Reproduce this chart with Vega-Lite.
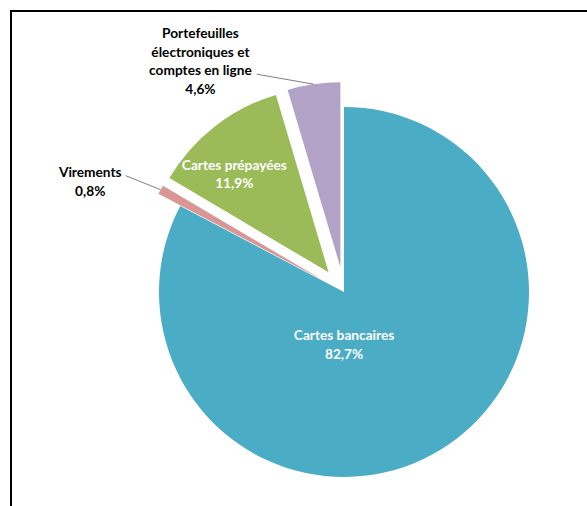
{
  "$schema": "https://vega.github.io/schema/vega-lite/v6.json",
  "width": 600,
  "height": 520,
  "autosize": {"type": "none"},
  "padding": {"left": 11, "top": 11, "right": -24, "bottom": -25},
  "background": "white",
  "config": {"view": {"stroke": "black", "strokeWidth": 2}, "font": "Lato"},
  "data": {
    "values": [
      {"category": "Cartes bancaires", "value": 82.7},
      {"category": "Virements", "value": 0.8},
      {"category": "Cartes prépayées", "value": 11.9},
      {"category": "Portefeuilles\nélectroniques et\ncomptes en ligne", "value": 4.6}
    ]
  },
  "transform": [
    {"stack": "value", "groupby": [], "as": ["v0", "v1"]},
    {"calculate": "(datum.v0 + datum.v1) / 2", "as": "m"},
    {"calculate": "2 * PI * datum.m / 100", "as": "a"},
    {"calculate": "datum.value < 50 ? 25 : 0", "as": "explode"},
    {"calculate": "datum.explode * sin(datum.a)", "as": "ex"},
    {"calculate": "datum.explode * cos(datum.a)", "as": "ey"},
    {"calculate": "datum.ex + 185 * sin(datum.a)", "as": "ox"},
    {"calculate": "datum.ey + 185 * cos(datum.a)", "as": "oy"},
    {"calculate": "datum.category + '\\n' + replace(format(datum.value, '.1f'), '.', ',') + '%'", "as": "label"}
  ],
  "encoding": {
    "x": {"field": "ex", "type": "quantitative", "scale": {"domain": [-333, 267], "nice": false, "zero": false}, "axis": null},
    "y": {"field": "ey", "type": "quantitative", "scale": {"domain": [-239, 281], "nice": false, "zero": false}, "axis": null}
  },
  "layer": [
    {
      "mark": {"type": "arc", "outerRadius": 185},
      "encoding": {
        "theta": {"field": "v0", "type": "quantitative", "stack": null, "scale": {"domain": [0, 100]}},
        "theta2": {"field": "v1"},
        "color": {
          "field": "category",
          "type": "nominal",
          "scale": {
            "domain": ["Cartes bancaires", "Virements", "Cartes prépayées", "Portefeuilles\nélectroniques et\ncomptes en ligne"],
            "range": ["#4BACC6", "#D99694", "#9BBB59", "#B3A2C7"]
          },
          "legend": null
        }
      }
    },
    {
      "transform": [{"filter": "datum.category == 'Virements'"}],
      "mark": {"type": "rule", "color": "#7F7F7F", "strokeWidth": 1, "x2Offset": -35, "y2Offset": -14},
      "encoding": {
        "x": {"field": "ox", "type": "quantitative", "axis": null},
        "y": {"field": "oy", "type": "quantitative", "axis": null},
        "x2": {"field": "ox"},
        "y2": {"field": "oy"}
      }
    },
    {
      "transform": [{"filter": "datum.value > 1 && datum.value < 5"}],
      "mark": {"type": "rule", "color": "#7F7F7F", "strokeWidth": 1, "x2Offset": -57, "y2Offset": -10},
      "encoding": {
        "x": {"field": "ox", "type": "quantitative", "axis": null},
        "y": {"field": "oy", "type": "quantitative", "axis": null},
        "x2": {"field": "ox"},
        "y2": {"field": "oy"}
      }
    },
    {
      "transform": [{"filter": "datum.category == 'Cartes bancaires'"}],
      "mark": {"type": "text", "radius": 62, "dx": -32, "dy": -9, "color": "white", "fontWeight": "bold", "fontSize": 13.7, "lineBreak": "\n", "lineHeight": 18.5, "align": "center", "baseline": "middle"},
      "encoding": {
        "theta": {"field": "m", "type": "quantitative", "stack": null},
        "text": {"field": "label"}
      }
    },
    {
      "transform": [{"filter": "datum.category == 'Cartes prépayées'"}],
      "mark": {"type": "text", "radius": 124, "dx": -18, "dy": -9, "color": "white", "fontWeight": "bold", "fontSize": 13.7, "lineBreak": "\n", "lineHeight": 18.5, "align": "center", "baseline": "middle"},
      "encoding": {
        "theta": {"field": "m", "type": "quantitative", "stack": null},
        "text": {"field": "label"}
      }
    },
    {
      "transform": [{"filter": "datum.category == 'Virements'"}],
      "mark": {"type": "text", "radius": 245, "dx": -18, "dy": 13, "color": "black", "fontWeight": "bold", "fontSize": 13.7, "lineBreak": "\n", "lineHeight": 18.5, "align": "center", "baseline": "middle"},
      "encoding": {
        "theta": {"field": "m", "type": "quantitative", "stack": null},
        "text": {"field": "label"}
      }
    },
    {
      "transform": [{"filter": "datum.value > 1 && datum.value < 5"}],
      "mark": {"type": "text", "radius": 208, "dx": -110, "dy": -27, "color": "black", "fontWeight": "bold", "fontSize": 13.7, "lineBreak": "\n", "lineHeight": 18.5, "align": "center", "baseline": "middle"},
      "encoding": {
        "theta": {"field": "m", "type": "quantitative", "stack": null},
        "text": {"field": "label"}
      }
    }
  ]
}
